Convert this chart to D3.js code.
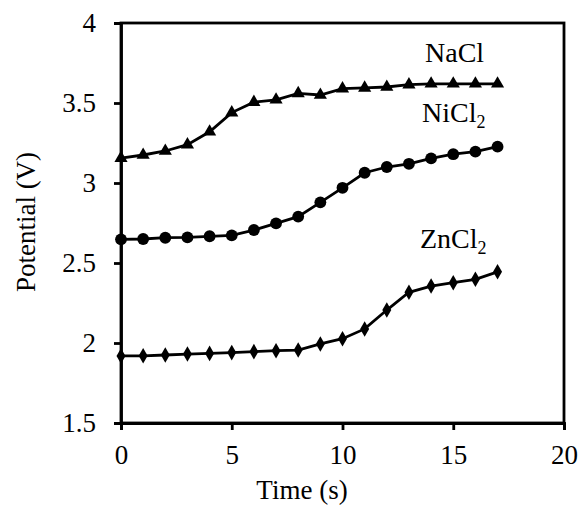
<!DOCTYPE html>
<html><head><meta charset="utf-8">
<script src="https://cdn.jsdelivr.net/npm/d3@7"></script>
<style>body{margin:0;background:#fff}text{font-family:"Liberation Serif","Times New Roman",serif;fill:#000}</style>
</head><body><svg id="c" width="582" height="507"></svg>
<script>
const time = [0,1,2,3,4,5,6,7,8,9,10,11,12,13,14,15,16,17];
const nacl = [3.155,3.175,3.20,3.24,3.32,3.44,3.505,3.52,3.56,3.55,3.59,3.594,3.60,3.615,3.62,3.62,3.62,3.62];
const nicl2 = [2.648,2.65,2.658,2.66,2.667,2.673,2.706,2.748,2.79,2.879,2.97,3.064,3.10,3.12,3.154,3.18,3.196,3.227];
const zncl2 = [1.919,1.92,1.925,1.931,1.935,1.94,1.946,1.952,1.956,1.994,2.027,2.088,2.206,2.317,2.356,2.377,2.398,2.445];
const xTicks = [0,5,10,15,20];
const yTicks = [1.5,2,2.5,3,3.5,4];
const seriesNames = ["NaCl","NiCl","ZnCl"];
const seriesSubs = ["","2","2"];

const svg = d3.select("#c");
const L=121,R=564,T=23,B=423;
const x = d3.scaleLinear().domain([0,20]).range([L,R]);
const y = d3.scaleLinear().domain([1.5,4]).range([B,T]);

svg.append("rect").attr("x",L).attr("y",T).attr("width",R-L).attr("height",B-T)
  .attr("fill","none").attr("stroke","#000").attr("stroke-width",2.8);

const xa = svg.append("g").attr("transform",`translate(0,${B})`)
  .call(d3.axisBottom(x).tickValues(xTicks).tickSize(7).tickPadding(12).tickFormat(d3.format("d")));
xa.selectAll(".tick text").attr("y",41).attr("dy",0);
const ya = svg.append("g").attr("transform",`translate(${L},0)`)
  .call(d3.axisLeft(y).tickValues(yTicks).tickSize(7).tickPadding(18).tickFormat(d=>String(d)));
[xa,ya].forEach(a=>{
  a.select(".domain").attr("stroke","#000").attr("stroke-width",2.8);
  a.selectAll(".tick line").attr("stroke","#000").attr("stroke-width",2.8);
  a.selectAll(".tick text").attr("font-size",27).attr("font-family","Liberation Serif").attr("fill","#000");
});

svg.append("text").attr("x",302).attr("y",499).attr("text-anchor","middle").attr("font-size",27).text("Time (s)");
svg.append("text").attr("transform","translate(35,222) rotate(-90)").attr("text-anchor","middle").attr("font-size",27).text("Potential (V)");

const line = d3.line().x((d,i)=>x(time[i])).y(d=>y(d));
const data = [nacl,nicl2,zncl2];
const symbols = [d3.symbolTriangle, d3.symbolCircle, d3.symbolDiamond];
const sizes = [75, 110, 70];
data.forEach((s,k)=>{
  svg.append("path").datum(s).attr("d",line).attr("fill","none").attr("stroke","#000").attr("stroke-width",2.8);
  svg.append("g").selectAll("path").data(s).join("path")
    .attr("transform",(d,i)=>`translate(${x(time[i])},${y(d)})`)
    .attr("d",d3.symbol().type(symbols[k]).size(sizes[k])).attr("fill","#000");
});

const labelPos = [[425,62],[422,122],[420,248]];
seriesNames.forEach((n,k)=>{
  const t = svg.append("text").attr("x",labelPos[k][0]).attr("y",labelPos[k][1]).attr("font-size",28).text(n);
  if(seriesSubs[k]) t.append("tspan").attr("font-size",18).attr("dy",6).text(seriesSubs[k]);
});
</script></body></html>
